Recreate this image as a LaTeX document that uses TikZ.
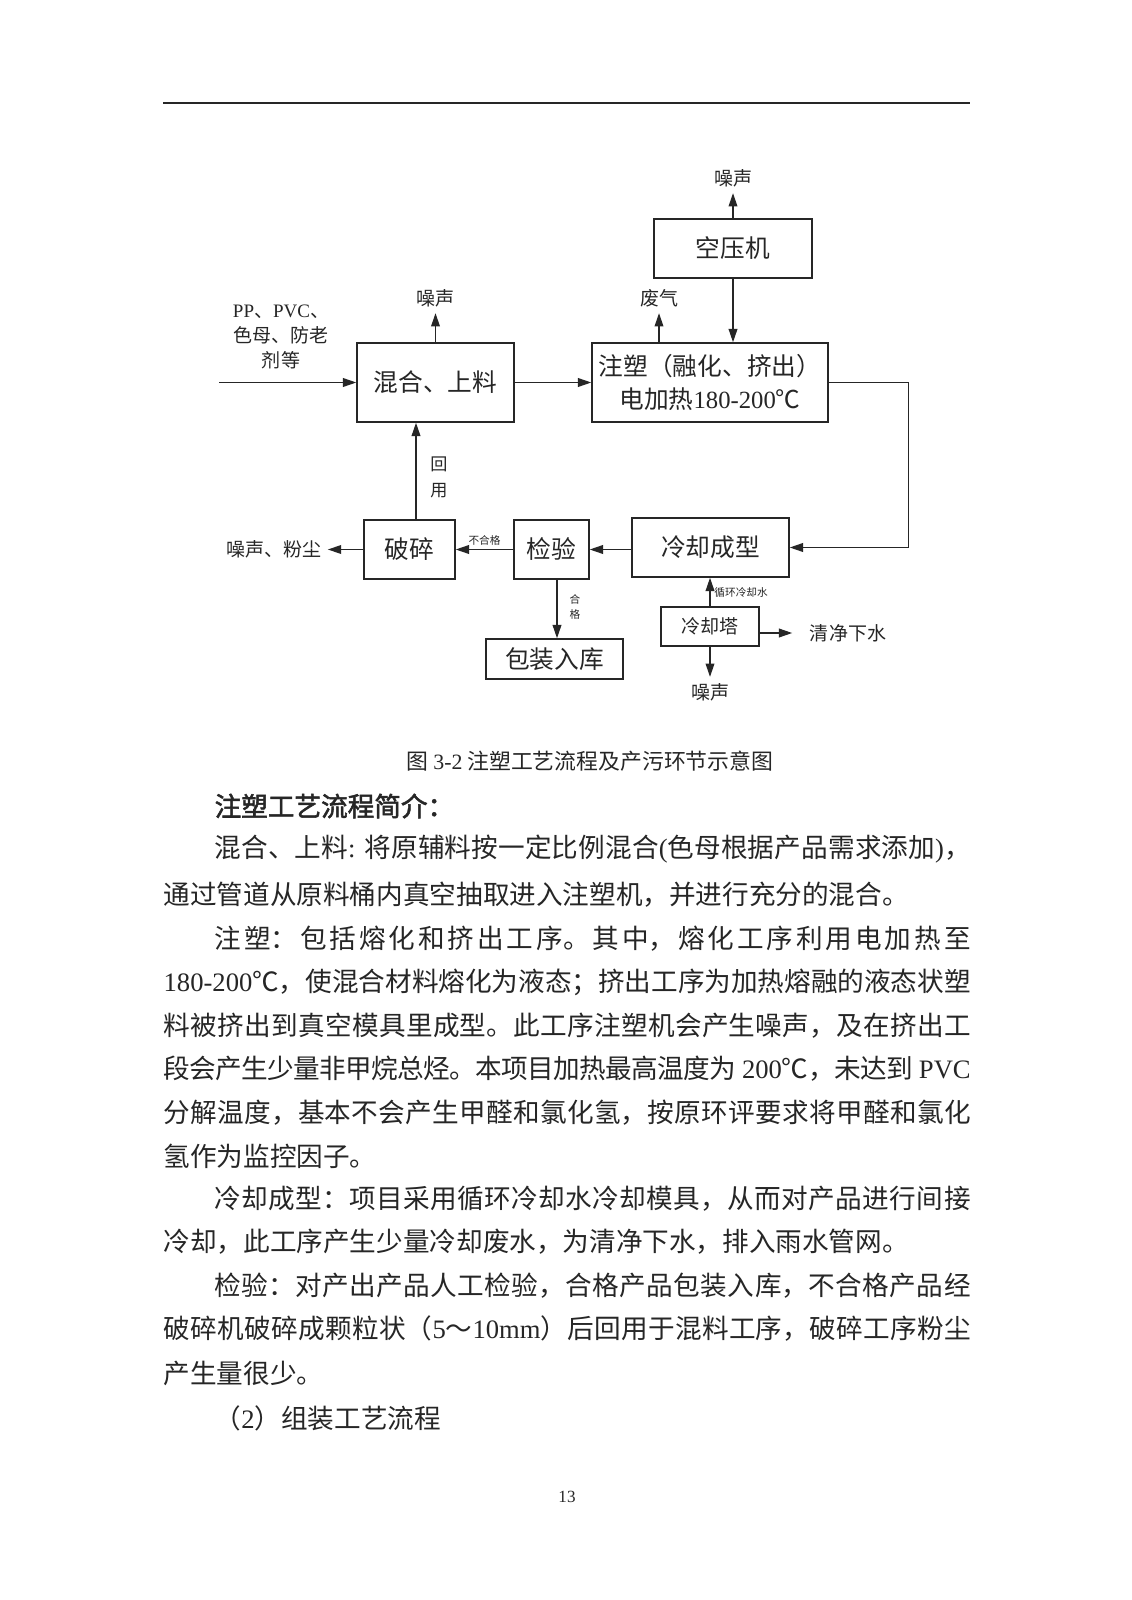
\documentclass[tikz,border=0pt]{standalone}
\usepackage{fontspec}
\setmainfont{Noto Sans CJK SC}[AutoFakeBold=2]
\newfontfamily\timesfont{Liberation Serif}
\usetikzlibrary{arrows.meta}
\XeTeXlinebreaklocale "zh"
\XeTeXlinebreakskip=0pt plus 3pt minus 1pt
\newcommand\pxu{0.5261pt}
\newcommand\tnr[1]{{\timesfont #1}}
\newcommand\jfull[1]{\parbox{424.6pt}{\parfillskip=0pt\relax #1}}
\newcommand\jind[1]{\parbox{397.7pt}{\parfillskip=0pt\relax #1}}

\begin{document}
\begin{tikzpicture}[x=\pxu, y=-\pxu, color=black!85, line width=0.7pt,
	>={Triangle[length=7pt,width=4.6pt]},
	box/.style={draw, line width=0.8pt, inner sep=0pt, align=center, font=\fontsize{13}{17.4}\selectfont},
	boxsize/.style 2 args={minimum width=#1*\pxu, minimum height=#2*\pxu},
	lab/.style={inner sep=3pt, font=\fontsize{10}{13}\selectfont},
	tiny/.style={inner sep=2pt, font=\fontsize{5.6}{8}\selectfont},
	body/.style={anchor=west, inner sep=0pt, font=\fontsize{14}{16}\selectfont}]
	\fill[white] (0,0) rectangle (1131,1600);
	\useasboundingbox (0,0) rectangle (1131,1600);
	\draw[line width=0.6pt] (163,103) -- (970,103);

	% process boxes
	\node[box, boxsize={157}{79}] (mix) at (435.5,382.5) {混合、上料};
	\node[box, boxsize={236}{79}] (inject) at (710,382.5) {注塑（融化、挤出）\\电加热\tnr{180-200}℃};
	\node[box, boxsize={158}{59}] (air) at (733,248.5) {空压机};
	\node[box, boxsize={157}{59}] (cool) at (710.5,547.5) {冷却成型};
	\node[box, boxsize={98}{39}, font=\fontsize{10}{13}\selectfont] (tower) at (710,626.5) {冷却塔};
	\node[box, boxsize={75}{59}] (check) at (551.5,549.5) {检验};
	\node[box, boxsize={91}{59}] (crush) at (409.5,549.5) {破碎};
	\node[box, boxsize={137}{40}] (pack) at (554.5,659) {包装入库};

	% outputs and inputs
	\node[lab, align=center] (raw) at (281,337) {\tnr{PP}、\tnr{PVC}、\\色母、防老\\剂等};
	\node[lab] (noise1) at (435.5,298) {噪声};
	\node[lab] (gas) at (659,298) {废气};
	\node[lab] (noise2) at (733,178) {噪声};
	\node[lab] (dust) at (274,549.5) {噪声、粉尘};
	\node[lab, inner xsep=9pt] (clean) at (848,633) {清净下水};
	\node[lab] (noise3) at (710,692) {噪声};
	\node[lab, align=center, font=\fontsize{9}{13.7}\selectfont] (reuse) at (439,477) {回\\用};
	\node[tiny, align=center] (pass) at (575,607) {合\\格};
	\coordinate (feed) at (219,382.5);

	% connectors
	\draw[->] (feed) -- (mix);
	\draw[->] (mix) -- (inject);
	\draw[->] (mix.north) -- (mix.north |- noise1.south);
	\draw[->] (inject.north -| gas) -- (gas.south);
	\draw[->] (air.north) -- (air.north |- noise2.south);
	\draw[->] (air) -- (air |- inject.north);
	\draw[->] (inject.east) -- ++(80,0) |- (cool.east);
	\draw[->] (cool.west |- check.east) -- (check.east);
	\draw[->] (check) -- node[tiny, above] (fail) {不合格} (crush);
	\draw[->] (crush) -- (dust);
	\draw[->] ([xshift=6.5*\pxu]crush.north) -- ([xshift=6.5*\pxu]crush.north |- mix.south);
	\draw[->] ([xshift=5.5*\pxu]check.south) -- ([xshift=5.5*\pxu]check.south |- pack.north);
	\draw[->] (tower) -- (tower |- cool.south) node[midway, right, tiny] (water) {循环冷却水};
	\draw[->] (tower.east |- clean.west) -- (clean.west);
	\draw[->] (tower) -- (noise3);

	% caption and text
	\node[font=\fontsize{11.5}{14}\selectfont] (cap) at (590,761) {图 \tnr{3-2} 注塑工艺流程及产污环节示意图};
	\node[body, font=\fontsize{14}{16}\selectfont\bfseries] (head) at (214,806) {注塑工艺流程简介：};
	\node[body] (t1) at (214,849) {\jind{混合、上料\tnr{: }将原辅料按一定比例混合\tnr{(}色母根据产品需求添加\tnr{)}，}};
	\node[body] (t2) at (163,895) {通过管道从原料桶内真空抽取进入注塑机，并进行充分的混合。};
	\node[body] (t3) at (214,939) {\jind{注塑：包括熔化和挤出工序。其中，熔化工序利用电加热至}};
	\node[body] (t4) at (163,982) {\jfull{\tnr{180-200}℃，使混合材料熔化为液态；挤出工序为加热熔融的液态状塑}};
	\node[body] (t5) at (163,1026) {\jfull{料被挤出到真空模具里成型。此工序注塑机会产生噪声，及在挤出工}};
	\node[body] (t6) at (163,1069) {\jfull{段会产生少量非甲烷总烃。本项目加热最高温度为\tnr{\ 200}℃，未达到\tnr{\ PVC}}};
	\node[body] (t7) at (163,1113) {\jfull{分解温度，基本不会产生甲醛和氯化氢，按原环评要求将甲醛和氯化}};
	\node[body] (t8) at (163,1156) {氢作为监控因子。};
	\node[body] (t9) at (214,1199) {\jind{冷却成型：项目采用循环冷却水冷却模具，从而对产品进行间接}};
	\node[body] (t10) at (163,1242) {冷却，此工序产生少量冷却废水，为清净下水，排入雨水管网。};
	\node[body] (t11) at (214,1286) {\jind{检验：对产出产品人工检验，合格产品包装入库，不合格产品经}};
	\node[body] (t12) at (163,1329) {\jfull{破碎机破碎成颗粒状（\tnr{5}～\tnr{10mm}）后回用于混料工序，破碎工序粉尘}};
	\node[body] (t13) at (163,1373) {产生量很少。};
	\node[body] (t14) at (214,1418) {（\tnr{2}）组装工艺流程};
	\node[font=\fontsize{9}{11}\selectfont] (page) at (567,1497) {\tnr{13}};
\end{tikzpicture}
\end{document}
